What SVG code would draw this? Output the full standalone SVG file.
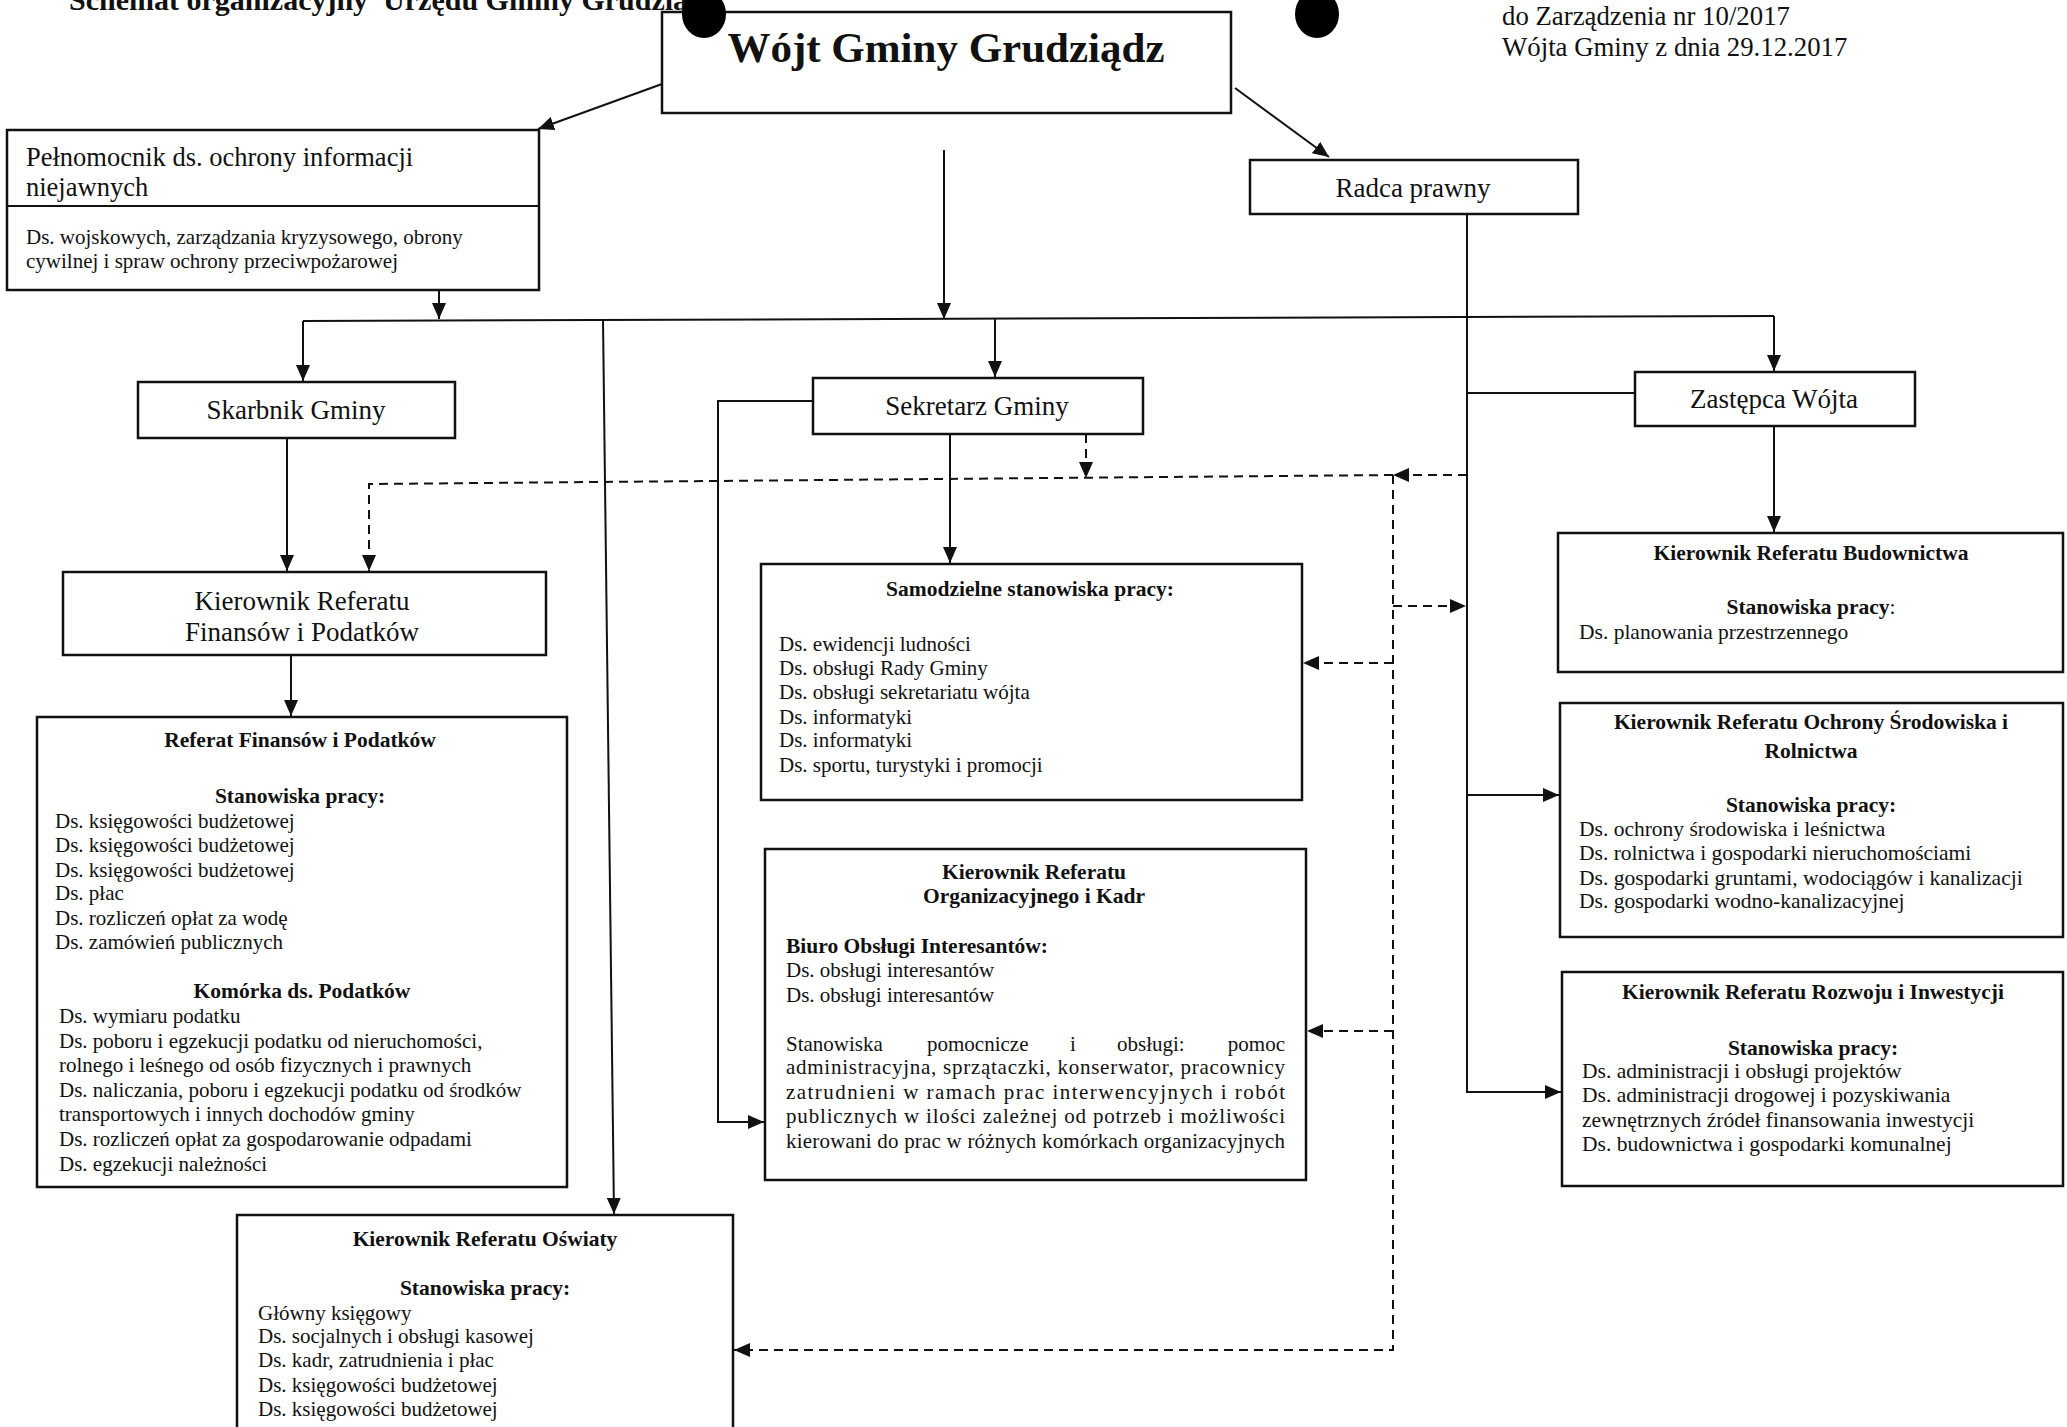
<svg xmlns="http://www.w3.org/2000/svg" width="2067" height="1427" viewBox="0 0 2067 1427">
<defs>
<style>
.box{fill:#fff;stroke:#111;stroke-width:2.5}
.ln{fill:none;stroke:#111;stroke-width:2}
.dash{stroke-dasharray:9 6}
.t{font-family:"Liberation Serif","Times New Roman",serif;fill:#111}
.nm{font-size:27px}
.it{font-size:21px}
.itr{font-size:21.5px}
.hb{font-size:21.5px;font-weight:bold}
.c{text-anchor:middle}
</style>
<marker id="arr" markerUnits="userSpaceOnUse" markerWidth="16" markerHeight="14" refX="16" refY="7" orient="auto">
<path d="M0,0 L16,7 L0,14 z" fill="#111"/>
</marker>
</defs>
<rect width="2067" height="1427" fill="#fff"/>

<g id="header" class="t">
<text x="69" y="10" font-size="30" font-weight="bold" xml:space="preserve">Schemat organizacyjny  Urzędu Gminy Grudziądz</text>
<text x="1502" y="25" font-size="26.8">do Zarządzenia nr 10/2017</text>
<text x="1502" y="56" font-size="26.8">Wójta Gminy z dnia 29.12.2017</text>
</g>

<g id="connectors">
<path class="ln" d="M662,84 L538,129" marker-end="url(#arr)"/>
<path class="ln" d="M1235,88 L1329,157" marker-end="url(#arr)"/>
<path class="ln" d="M944,150 V319" marker-end="url(#arr)"/>
<path class="ln" d="M439,290 V319" marker-end="url(#arr)"/>
<path class="ln" d="M303,321 L1774,316"/>
<path class="ln" d="M303,321 V381" marker-end="url(#arr)"/>
<path class="ln" d="M995,318 V377" marker-end="url(#arr)"/>
<path class="ln" d="M1774,316 V371" marker-end="url(#arr)"/>
<path class="ln" d="M603,320 L614,1214" marker-end="url(#arr)"/>
<path class="ln" d="M287,438 V571" marker-end="url(#arr)"/>
<path class="ln" d="M291,655 V716" marker-end="url(#arr)"/>
<path class="ln" d="M950,434 V563" marker-end="url(#arr)"/>
<path class="ln" d="M813,401 H718 V1122 H764" marker-end="url(#arr)"/>
<path class="ln" d="M1467,214 V1092 H1561" marker-end="url(#arr)"/>
<path class="ln" d="M1467,393 H1635"/>
<path class="ln" d="M1467,795 H1559" marker-end="url(#arr)"/>
<path class="ln" d="M1774,426 V532" marker-end="url(#arr)"/>
<path class="ln dash" d="M1467,475 H1393" marker-end="url(#arr)"/>
<path class="ln dash" d="M1393,475 L369,484 V571" marker-end="url(#arr)"/>
<path class="ln dash" d="M1086,434 V478" marker-end="url(#arr)"/>
<path class="ln dash" d="M1393,475 V1350 H734" marker-end="url(#arr)"/>
<path class="ln dash" d="M1393,606 H1466" marker-end="url(#arr)"/>
<path class="ln dash" d="M1393,663 H1303" marker-end="url(#arr)"/>
<path class="ln dash" d="M1393,1031 H1307" marker-end="url(#arr)"/>
</g>

<g id="wojt">
<rect class="box" x="662" y="12" width="569" height="101"/>
<text class="t c" x="946" y="62" font-size="43" font-weight="bold">Wójt Gminy Grudziądz</text>
</g>

<g id="pelnomocnik" class="t">
<rect class="box" x="7" y="130" width="532" height="160"/>
<line class="ln" x1="7" y1="206" x2="539" y2="206" stroke-width="2.5"/>
<text x="26" y="166" font-size="26.5">Pełnomocnik ds. ochrony informacji</text>
<text x="26" y="196" font-size="26.5">niejawnych</text>
<text class="it" x="26" y="244">Ds. wojskowych, zarządzania kryzysowego, obrony</text>
<text class="it" x="26" y="268">cywilnej i spraw ochrony przeciwpożarowej</text>
</g>

<g id="radca" class="t">
<rect class="box" x="1250" y="160" width="328" height="54"/>
<text class="nm c" x="1413" y="197">Radca prawny</text>
</g>

<g id="skarbnik" class="t">
<rect class="box" x="138" y="382" width="317" height="56"/>
<text class="nm c" x="296" y="419">Skarbnik Gminy</text>
</g>

<g id="sekretarz" class="t">
<rect class="box" x="813" y="378" width="330" height="56"/>
<text class="nm c" x="977" y="415">Sekretarz Gminy</text>
</g>

<g id="zastepca" class="t">
<rect class="box" x="1635" y="372" width="280" height="54"/>
<text class="nm c" x="1774" y="408">Zastępca Wójta</text>
</g>

<g id="kier-finansow" class="t">
<rect class="box" x="63" y="572" width="483" height="83"/>
<text class="nm c" x="302" y="610">Kierownik Referatu</text>
<text class="nm c" x="302" y="641">Finansów i Podatków</text>
</g>

<g id="referat-finansow" class="t">
<rect class="box" x="37" y="717" width="530" height="470"/>
<text class="hb c" x="300" y="747">Referat Finansów i Podatków</text>
<text class="hb c" x="300" y="803">Stanowiska pracy:</text>
<text class="it" x="55" y="828">Ds. księgowości budżetowej</text>
<text class="it" x="55" y="852">Ds. księgowości budżetowej</text>
<text class="it" x="55" y="877">Ds. księgowości budżetowej</text>
<text class="it" x="55" y="900">Ds. płac</text>
<text class="it" x="55" y="925">Ds. rozliczeń opłat za wodę</text>
<text class="it" x="55" y="949">Ds. zamówień publicznych</text>
<text class="hb c" x="302" y="998">Komórka ds. Podatków</text>
<text class="it" x="59" y="1023">Ds. wymiaru podatku</text>
<text class="it" x="59" y="1048">Ds. poboru i egzekucji podatku od nieruchomości,</text>
<text class="it" x="59" y="1072">rolnego i leśnego od osób fizycznych i prawnych</text>
<text class="it" x="59" y="1097">Ds. naliczania, poboru i egzekucji podatku od środków</text>
<text class="it" x="59" y="1121">transportowych i innych dochodów gminy</text>
<text class="it" x="59" y="1146">Ds. rozliczeń opłat za gospodarowanie odpadami</text>
<text class="it" x="59" y="1171">Ds. egzekucji należności</text>
</g>

<g id="samodzielne" class="t">
<rect class="box" x="761" y="564" width="541" height="236"/>
<text class="hb c" x="1030" y="596">Samodzielne stanowiska pracy:</text>
<text class="it" x="779" y="651">Ds. ewidencji ludności</text>
<text class="it" x="779" y="675">Ds. obsługi Rady Gminy</text>
<text class="it" x="779" y="699">Ds. obsługi sekretariatu wójta</text>
<text class="it" x="779" y="724">Ds. informatyki</text>
<text class="it" x="779" y="747">Ds. informatyki</text>
<text class="it" x="779" y="772">Ds. sportu, turystyki i promocji</text>
</g>

<g id="organizacyjny" class="t">
<rect class="box" x="765" y="849" width="541" height="331"/>
<text class="hb c" x="1034" y="879">Kierownik Referatu</text>
<text class="hb c" x="1034" y="903">Organizacyjnego i Kadr</text>
<text class="hb" x="786" y="953">Biuro Obsługi Interesantów:</text>
<text class="it" x="786" y="977">Ds. obsługi interesantów</text>
<text class="it" x="786" y="1002">Ds. obsługi interesantów</text>
<text class="it" y="1051"><tspan x="786">Stanowiska</tspan><tspan x="927">pomocnicze</tspan><tspan x="1070">i</tspan><tspan x="1117">obsługi:</tspan><tspan x="1285" text-anchor="end">pomoc</tspan></text>
<text class="it" x="786" y="1074" textLength="499" lengthAdjust="spacing">administracyjna, sprzątaczki, konserwator, pracownicy</text>
<text class="it" x="786" y="1099" textLength="499" lengthAdjust="spacing">zatrudnieni w ramach prac interwencyjnych i robót</text>
<text class="it" x="786" y="1123" textLength="499" lengthAdjust="spacing">publicznych w ilości zależnej od potrzeb i możliwości</text>
<text class="it" x="786" y="1148" textLength="499" lengthAdjust="spacing">kierowani do prac w różnych komórkach organizacyjnych</text>
</g>

<g id="oswiata" class="t">
<rect class="box" x="237" y="1215" width="496" height="240"/>
<text class="hb c" x="485" y="1246">Kierownik Referatu Oświaty</text>
<text class="hb c" x="485" y="1295">Stanowiska pracy:</text>
<text class="it" x="258" y="1320">Główny księgowy</text>
<text class="it" x="258" y="1343">Ds. socjalnych i obsługi kasowej</text>
<text class="it" x="258" y="1367">Ds. kadr, zatrudnienia i płac</text>
<text class="it" x="258" y="1392">Ds. księgowości budżetowej</text>
<text class="it" x="258" y="1416">Ds. księgowości budżetowej</text>
</g>

<g id="budownictwa" class="t">
<rect class="box" x="1558" y="533" width="505" height="139"/>
<text class="hb c" x="1811" y="560">Kierownik Referatu Budownictwa</text>
<text class="hb c" x="1811" y="614">Stanowiska pracy<tspan font-weight="normal">:</tspan></text>
<text class="itr" x="1579" y="639">Ds. planowania przestrzennego</text>
</g>

<g id="ochrony" class="t">
<rect class="box" x="1560" y="703" width="503" height="234"/>
<text class="hb c" x="1811" y="729">Kierownik Referatu Ochrony Środowiska i</text>
<text class="hb c" x="1811" y="758">Rolnictwa</text>
<text class="hb c" x="1811" y="812">Stanowiska pracy:</text>
<text class="itr" x="1579" y="836">Ds. ochrony środowiska i leśnictwa</text>
<text class="itr" x="1579" y="860">Ds. rolnictwa i gospodarki nieruchomościami</text>
<text class="itr" x="1579" y="885">Ds. gospodarki gruntami, wodociągów i kanalizacji</text>
<text class="itr" x="1579" y="908">Ds. gospodarki wodno-kanalizacyjnej</text>
</g>

<g id="rozwoju" class="t">
<rect class="box" x="1562" y="972" width="501" height="214"/>
<text class="hb c" x="1813" y="999">Kierownik Referatu Rozwoju i Inwestycji</text>
<text class="hb c" x="1813" y="1055">Stanowiska pracy:</text>
<text class="itr" x="1582" y="1078">Ds. administracji i obsługi projektów</text>
<text class="itr" x="1582" y="1102">Ds. administracji drogowej i pozyskiwania</text>
<text class="itr" x="1582" y="1127">zewnętrznych źródeł finansowania inwestycji</text>
<text class="itr" x="1582" y="1151">Ds. budownictwa i gospodarki komunalnej</text>
</g>

<g id="punch-holes">
<ellipse cx="704" cy="14" rx="22" ry="24" fill="#000"/>
<ellipse cx="1317" cy="14" rx="22" ry="24" fill="#000"/>
</g>
</svg>
